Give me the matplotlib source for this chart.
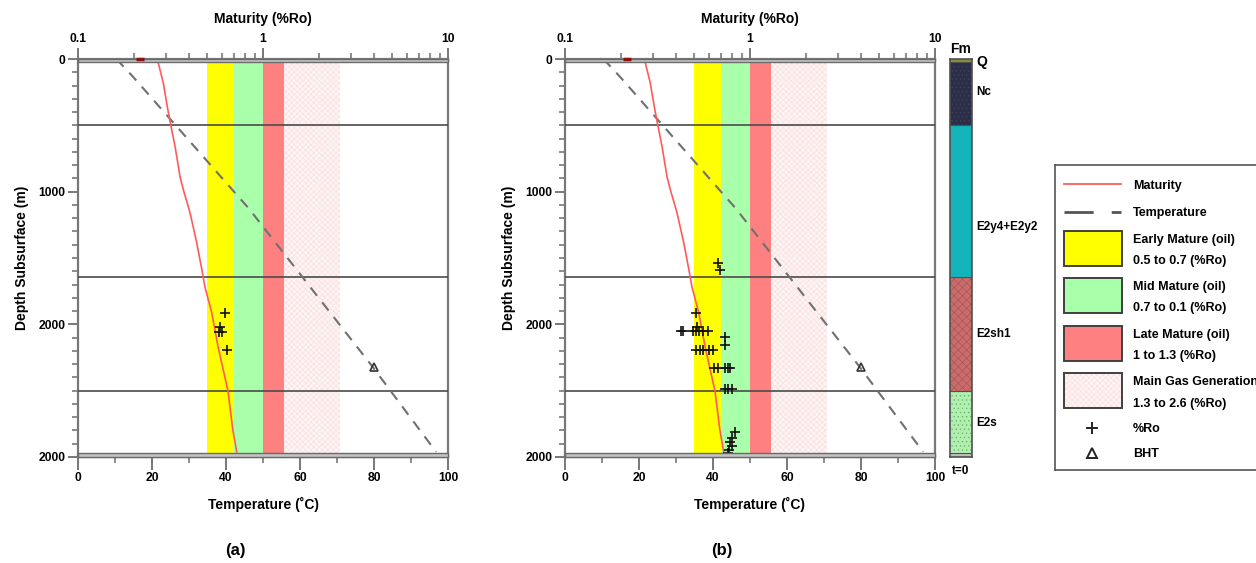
"""
Burial/thermal maturity profile for two wells: temperature and vitrinite
reflectance (%Ro) against depth, oil/gas windows, formation column, legend.
"""

import numpy as np
import matplotlib.pyplot as plt
from matplotlib.patches import Rectangle
from matplotlib.lines import Line2D
from matplotlib.ticker import MultipleLocator, NullFormatter

plt.rcParams['font.family'] = ['Liberation Sans', 'DejaVu Sans']
plt.rcParams['font.weight'] = 'bold'
plt.rcParams['hatch.linewidth'] = 0.4

# ── Data ──────────────────────────────────────────────────────────────────────
# modelled maturity curve (depth m, %Ro)
mat_depth = [15, 180, 361, 496, 662, 887, 985, 1158, 1383, 1586, 1722, 1910,
             2165, 2504, 2789, 2962]
mat_ro    = [0.270, 0.289, 0.304, 0.317, 0.335, 0.356, 0.371, 0.403, 0.438,
             0.467, 0.486, 0.528, 0.571, 0.647, 0.686, 0.721]
surface_ro = 0.216

# modelled temperature (depth m, degC)
temp_depth = [0, 135, 1128, 2323, 2962]
temp_c     = [10.4, 14.9, 46.2, 79.7, 96.8]

# bottom hole temperature
bht_depth = [2325]
bht_c     = [80]

# measured %Ro, well (a)
ro_a_depth = [1912, 2020, 2055, 2055, 2195]
ro_a       = [0.626, 0.586, 0.576, 0.600, 0.641]

# measured %Ro, well (b)
ro_b_depth = [1541, 1592, 1912, 2018,
              2050, 2050, 2050, 2050, 2050, 2050, 2050,
              2093, 2158,
              2195, 2195, 2195, 2195, 2195,
              2326, 2326, 2326, 2326, 2326,
              2489, 2489, 2489,
              2814, 2859, 2889, 2920, 2945, 2970]
ro_b       = [0.674, 0.689, 0.511, 0.515,
              0.422, 0.436, 0.494, 0.511, 0.532, 0.559, 0.590,
              0.732, 0.732,
              0.511, 0.537, 0.559, 0.603, 0.628,
              0.639, 0.674, 0.732, 0.763, 0.780,
              0.732, 0.763, 0.796,
              0.830, 0.796, 0.780, 0.796, 0.773, 0.763]

# maturity windows (%Ro)
zone_lo     = [0.5, 0.7, 1.0, 1.3]
zone_hi     = [0.7, 1.0, 1.3, 2.6]
zone_color  = ['#FFFF00', '#AAFFAA', '#FF8080', '#FEF4F4']
zone_title  = ['Early Mature (oil)', 'Mid Mature (oil)', 'Late Mature (oil)',
               'Main Gas Generation']
zone_range  = ['0.5 to 0.7 (%Ro)', '0.7 to 0.1 (%Ro)', '1 to 1.3 (%Ro)',
               '1.3 to 2.6 (%Ro)']
GAS_HATCH = '#F9DCDC'

# formations (top/base depth m)
fm_names = ['Q', 'Nc', 'E2y4+E2y2', 'E2sh1', 'E2s', '']
fm_top   = [0, 25, 500, 1640, 2500, 2970]
fm_base  = [25, 500, 1640, 2500, 2970, 3000]
fm_color = ['#8C8C3C', '#2C2E48', '#12B4BA', '#C86C6C', '#B2EDB2', '#BDBDBD']
fm_hatch = [None, '....', None, 'xxxx', '....', None]
fm_hcol  = ['#8C8C3C', '#41445E', '#12B4BA', '#A85050', '#5DB85D', '#BDBDBD']
fm_label_y = [20, 250, 1270, 2075, 2740, 0]

depth_ticks  = [0, 1000, 2000, 3000]
depth_labels = ['0', '1000', '2000', '2000']
DEPTH_MAX = 3000

# ── Figure ────────────────────────────────────────────────────────────────────
W, H = 1256, 563
fig = plt.figure(figsize=(W / 100, H / 100), dpi=100)

AX_B = 1 - 457 / H
AX_H = 398 / H
GRID = '#787878'
TFS = 8.7


def draw_panel(left, ro_depth, ro_vals, tag):
    ax = fig.add_axes([left / W, AX_B, 370 / W, AX_H])
    ax.set_xlim(0, 100)
    ax.set_ylim(DEPTH_MAX, 0)
    ax2 = ax.twiny()
    ax2.set_xscale('log')
    ax2.set_xlim(0.1, 10)
    ax2.set_ylim(DEPTH_MAX, 0)
    ax2.patch.set_visible(False)

    # maturity windows
    for lo, hi, c in zip(zone_lo, zone_hi, zone_color):
        if hi == zone_hi[-1]:
            ax2.axvspan(lo, hi, facecolor=c, edgecolor=GAS_HATCH,
                        hatch='xxxxxx', lw=0, zorder=1)
        else:
            ax2.axvspan(lo, hi, color=c, lw=0, zorder=1)

    # formation boundaries
    for d in fm_top[2:-1]:
        ax2.axhline(d, color='#4a4a4a', lw=1.2, zorder=2)
    for t, b in [(fm_top[0], fm_base[0]), (fm_top[-1], fm_base[-1])]:
        ax2.axhspan(t, b, facecolor='#C4C4C4', edgecolor='#6a6a6a', lw=1,
                    zorder=6, clip_on=False)

    # temperature & BHT (temperature axis)
    ax2.plot(temp_c, temp_depth, color='#707070', lw=1.5, dashes=(5, 4),
             transform=ax.transData, zorder=3)
    ax2.plot(bht_c, bht_depth, ls='none', marker='^', ms=6, mfc='none',
             mec='#333333', mew=1.2, transform=ax.transData, zorder=5)

    # maturity
    ax2.plot(mat_ro, mat_depth, color='#FF5A5A', lw=1.2, zorder=4)
    ax2.plot([surface_ro], [0], ls='none', marker='_', ms=6, mew=2.5,
             color='#8B1010', zorder=7, clip_on=False)
    ax2.plot(ro_vals, ro_depth, ls='none', marker='+', ms=6.5, mew=1.2,
             color='#111111', zorder=5)

    # axes cosmetics
    for sp in ['left', 'right', 'bottom']:
        ax.spines[sp].set_color(GRID)
        ax.spines[sp].set_linewidth(1.6)
    ax.spines['top'].set_visible(False)
    for sp in ['left', 'right', 'bottom']:
        ax2.spines[sp].set_visible(False)
    ax2.spines['top'].set_color(GRID)
    ax2.spines['top'].set_linewidth(1.6)

    ax.set_xticks(range(0, 101, 20))
    ax.xaxis.set_minor_locator(MultipleLocator(10))
    ax.set_yticks(depth_ticks)
    ax.set_yticklabels(depth_labels)
    ax.yaxis.set_minor_locator(MultipleLocator(100))
    ax.tick_params(which='major', length=7, width=1.4, color=GRID,
                   labelsize=TFS, pad=2)
    ax.tick_params(which='minor', length=4, width=1.2, color=GRID)
    ax.tick_params(axis='x', which='major', length=9)

    ax2.set_xticks([0.1, 1, 10])
    ax2.set_xticklabels(['0.1', '1', '10'])
    ax2.xaxis.set_minor_formatter(NullFormatter())
    ax2.tick_params(which='major', length=8, width=1.4, color=GRID,
                    labelsize=TFS, pad=2)
    ax2.tick_params(which='minor', length=4, width=1.2, color=GRID)

    ax.set_xlabel('Temperature (˚C)', fontsize=10, fontweight='bold', labelpad=9)
    ax2.set_xlabel('Maturity (%Ro)', fontsize=10, fontweight='bold', labelpad=7)
    ax.set_ylabel('Depth Subsurface (m)', fontsize=10, fontweight='bold',
                  labelpad=7)

    fig.text((left + 157) / W, 1 - 550 / H, tag, ha='center', va='center',
             fontsize=12, fontweight='bold')
    return ax


draw_panel(78, ro_a_depth, ro_a, '(a)')
draw_panel(565, ro_b_depth, ro_b, '(b)')

# ── Formation column ─────────────────────────────────────────────────────────
axs = fig.add_axes([950 / W, AX_B, 22 / W, AX_H])
axs.set_xlim(0, 1)
axs.set_ylim(DEPTH_MAX, 0)
for t, b, c, h, hc in zip(fm_top, fm_base, fm_color, fm_hatch, fm_hcol):
    axs.bar(0.5, b - t, bottom=t, width=1, facecolor=c, edgecolor=hc,
            hatch=h, lw=0)
for d in fm_top[1:]:
    axs.axhline(d, color='#505050', lw=0.8)
for sp in axs.spines.values():
    sp.set_color('#505050')
    sp.set_linewidth(1.2)
axs.set_xticks([])
axs.set_yticks([])
for name, y in zip(fm_names, fm_label_y):
    if name:
        axs.text(1.2, y, name, ha='left', va='center',
                 fontsize=10 if name == 'Q' else 8.5, fontweight='bold')
axs.text(0.5, 1.008, 'Fm', transform=axs.transAxes, ha='center',
         va='bottom', fontsize=10, fontweight='bold')
axs.text(0.5, -0.02, 't=0', transform=axs.transAxes, ha='center',
         va='top', fontsize=8.5, fontweight='bold')

# ── Legend box (pixel units) ─────────────────────────────────────────────────
axl = fig.add_axes([1055 / W, 1 - 470 / H, 260 / W, 305 / H])
axl.set_xlim(1055, 1315)
axl.set_ylim(470, 165)
axl.set_xticks([])
axl.set_yticks([])
for sp in axl.spines.values():
    sp.set_color('#555555')
    sp.set_linewidth(1.2)

TX = 1133
LFS = 9
axl.add_line(Line2D([1064, 1121], [184, 184], color='#FF5A5A', lw=1.3))
axl.text(TX, 186, 'Maturity', va='center', fontsize=LFS)
axl.add_line(Line2D([1064, 1121], [212, 212], color='#555555', lw=2,
                    dashes=(10.5, 6.5)))
axl.text(TX, 213, 'Temperature', va='center', fontsize=LFS)

box_top = 231
for c, title, rng, hi in zip(zone_color, zone_title, zone_range, zone_hi):
    if hi == zone_hi[-1]:
        axl.add_patch(Rectangle((1064, box_top), 58, 35, facecolor=c,
                                edgecolor=GAS_HATCH, hatch='xxxxxx', lw=0))
        axl.add_patch(Rectangle((1064, box_top), 58, 35, facecolor='none',
                                edgecolor='#404040', lw=1.4))
    else:
        axl.add_patch(Rectangle((1064, box_top), 58, 35, facecolor=c,
                                edgecolor='#404040', lw=1.4))
    axl.text(TX, box_top + 9, title, va='center', fontsize=LFS)
    axl.text(TX, box_top + 30, rng, va='center', fontsize=LFS)
    box_top += 47.5

axl.plot([1092], [428], marker='+', ms=9, mew=1.4, color='#222222')
axl.text(TX, 429, '%Ro', va='center', fontsize=LFS)
axl.plot([1092], [453], marker='^', ms=7, mfc='none', mec='#222222', mew=1.4)
axl.text(TX, 454, 'BHT', va='center', fontsize=LFS)

fig.savefig('out.png', dpi=100)
